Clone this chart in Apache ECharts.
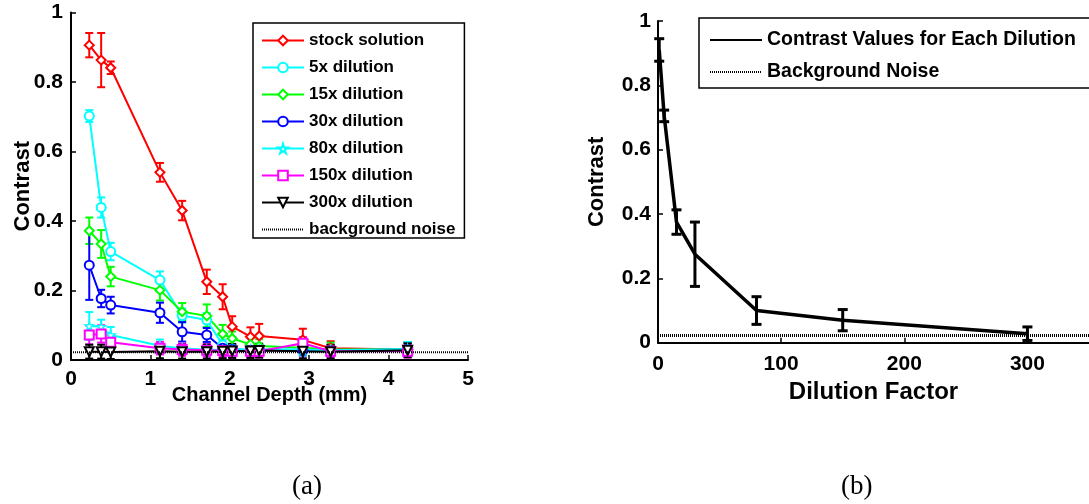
<!DOCTYPE html>
<html>
<head>
<meta charset="utf-8">
<script src="https://cdn.jsdelivr.net/npm/echarts@6/dist/echarts.min.js"></script>
<style>
	html,body{margin:0;padding:0;background:#fff;}
	#chart{width:1089px;height:504px;}
</style>
</head>
<body>
<div id="chart"></div>
<script>
// (a) 通道深度 vs 对比度
var depth = [0.23, 0.38, 0.5, 1.12, 1.4, 1.71, 1.91, 2.03, 2.26, 2.37, 2.92, 3.27, 4.24];
var stock = [0.906, 0.863, 0.841, 0.54, 0.43, 0.225, 0.182, 0.096, 0.067, 0.069, 0.058, 0.034, 0.03];
var stockErr = [0.035, 0.078, 0.018, 0.027, 0.028, 0.035, 0.036, 0.03, 0.027, 0.035, 0.032, 0.02, 0.02];
var dil5 = [0.702, 0.439, 0.312, 0.23, 0.128, 0.115, 0.043, 0.032, 0.03, 0.03, 0.03, 0.026, 0.03];
var dil5Err = [0.017, 0.029, 0.025, 0.025, 0.02, 0.02, 0.015, 0.015, 0.015, 0.015, 0.015, 0.015, 0.02];
var dil15 = [0.372, 0.334, 0.24, 0.201, 0.139, 0.127, 0.075, 0.062, 0.045, 0.04, 0.035, 0.03, 0.03];
var dil15Err = [0.038, 0.04, 0.028, 0.03, 0.025, 0.033, 0.026, 0.02, 0.02, 0.02, 0.018, 0.02, 0.02];
var dil30 = [0.273, 0.177, 0.158, 0.136, 0.081, 0.072, 0.034, 0.03, 0.028, 0.028, 0.028, 0.027, 0.03];
var dil30Err = [0.1, 0.025, 0.024, 0.029, 0.028, 0.02, 0.015, 0.015, 0.015, 0.015, 0.015, 0.015, 0.02];
var dil80 = [0.098, 0.096, 0.072, 0.041, 0.033, 0.03, 0.028, 0.027, 0.03, 0.03, 0.03, 0.028, 0.032];
var dil80Err = [0.04, 0.02, 0.023, 0.018, 0.015, 0.015, 0.015, 0.015, 0.015, 0.015, 0.015, 0.015, 0.02];
var dil150 = [0.072, 0.075, 0.051, 0.034, 0.03, 0.028, 0.027, 0.025, 0.025, 0.025, 0.048, 0.025, 0.025];
var dil150Err = [0.027, 0.025, 0.02, 0.018, 0.018, 0.018, 0.018, 0.018, 0.018, 0.018, 0.018, 0.018, 0.018];
var dil300 = [0.024, 0.024, 0.023, 0.025, 0.024, 0.024, 0.025, 0.026, 0.026, 0.027, 0.025, 0.024, 0.028];
var dil300Err = [0.02, 0.02, 0.02, 0.02, 0.02, 0.02, 0.02, 0.02, 0.02, 0.02, 0.02, 0.02, 0.02];
var noiseLeft = 0.022;
var depthRange = [0, 5];

// (b) 稀释倍数 vs 对比度
var dilution = [1, 5, 15, 30, 80, 150, 300];
var contrast = [0.91, 0.705, 0.375, 0.275, 0.1, 0.07, 0.028];
var contrastErr = [0.035, 0.018, 0.038, 0.1, 0.043, 0.033, 0.021];
var noiseRight = 0.022;
var dilutionRange = [0, 350];

var FONT = "'Liberation Sans', Arial, sans-serif";

// 左图各曲线: 名称, 数值, 误差, 颜色, 标记
var leftSeries = [
	{name:'stock solution', y:stock, err:stockErr, color:'#ff0000', symbol:'emptyDiamond'},
	{name:'5x dilution', y:dil5, err:dil5Err, color:'#00ffff', symbol:'emptyCircle'},
	{name:'15x dilution', y:dil15, err:dil15Err, color:'#00ff00', symbol:'emptyDiamond'},
	{name:'30x dilution', y:dil30, err:dil30Err, color:'#0000ff', symbol:'emptyCircle'},
	{name:'80x dilution', y:dil80, err:dil80Err, color:'#00ffff', symbol:'path://M50,0 L61,35 L98,35 L68,57 L79,91 L50,70 L21,91 L32,57 L2,35 L39,35 Z', star:true},
	{name:'150x dilution', y:dil150, err:dil150Err, color:'#ff00ff', symbol:'emptyRect'},
	{name:'300x dilution', y:dil300, err:dil300Err, color:'#000000', symbol:'emptyTriangle', rotate:180}
];

// 误差棒 (custom series)
function errorBar(color, width, cap){
	return function(params, api){
		var x = api.value(0);
		var lo = api.coord([x, api.value(1)]);
		var hi = api.coord([x, api.value(2)]);
		var st = {stroke:color, lineWidth:width};
		return {type:'group', children:[
			{type:'line', shape:{x1:lo[0], y1:lo[1], x2:hi[0], y2:hi[1]}, style:st},
			{type:'line', shape:{x1:lo[0]-cap, y1:lo[1], x2:lo[0]+cap, y2:lo[1]}, style:st},
			{type:'line', shape:{x1:hi[0]-cap, y1:hi[1], x2:hi[0]+cap, y2:hi[1]}, style:st}
		]};
	};
}

function errData(xs, ys, es){
	var out = [];
	for(var i=0;i<xs.length;i++){
		out.push([xs[i], ys[i]-es[i], ys[i]+es[i]]);
	}
	return out;
}

function pairs(xs, ys){
	var out = [];
	for(var i=0;i<xs.length;i++){
		out.push([xs[i], ys[i]]);
	}
	return out;
}

var series = [];
leftSeries.forEach(function(s){
	series.push({
		type:'custom', xAxisIndex:0, yAxisIndex:0, silent:true,
		renderItem:errorBar(s.color, 2, 4),
		encode:{x:0, y:[1,2]},
		data:errData(depth, s.y, s.err),
		z:2
	});
	var item = s.star ? {color:'#fff', borderColor:s.color, borderWidth:1.3} : {color:s.color, borderWidth:1.3};
	series.push({
		name:s.name, type:'line', xAxisIndex:0, yAxisIndex:0,
		data:pairs(depth, s.y),
		color:s.color,
		symbol:s.symbol, symbolSize:9, symbolRotate:s.rotate || 0,
		itemStyle:item,
		lineStyle:{color:s.color, width:2},
		animation:false, z:3
	});
});
series.push({
	name:'background noise', type:'line', xAxisIndex:0, yAxisIndex:0,
	data:pairs(depthRange, [noiseLeft, noiseLeft]),
	symbol:'none', color:'#000',
	lineStyle:{color:'#000', width:2, type:[1,1]},
	animation:false, z:4
});

// 右图
series.push({
	type:'custom', xAxisIndex:1, yAxisIndex:1, silent:true,
	renderItem:errorBar('#000', 3, 5),
	encode:{x:0, y:[1,2]},
	data:errData(dilution, contrast, contrastErr),
	z:2
});
series.push({
	name:'Contrast Values for Each Dilution', type:'line', xAxisIndex:1, yAxisIndex:1,
	data:pairs(dilution, contrast),
	symbol:'none', color:'#000',
	lineStyle:{color:'#000', width:3.5},
	animation:false, z:3
});
series.push({
	name:'Background Noise', type:'line', xAxisIndex:1, yAxisIndex:1,
	data:pairs(dilutionRange, [noiseRight, noiseRight]),
	symbol:'none', color:'#000',
	lineStyle:{color:'#000', width:3, type:[1,1]},
	animation:false, z:4
});

function axisBase(){
	return {
		axisLine:{show:true, onZero:false, lineStyle:{color:'#000', width:2}},
		axisTick:{show:true, inside:true, length:5, lineStyle:{color:'#000', width:1.5}},
		splitLine:{show:false},
		axisLabel:{color:'#000', fontFamily:FONT, fontWeight:'bold', fontSize:21},
		nameTextStyle:{color:'#000', fontFamily:FONT, fontWeight:'bold'},
		nameMoveOverlap:false
	};
}

var xLeft = axisBase();
Object.assign(xLeft, {type:'value', gridIndex:0, min:0, max:5, interval:1,
	name:'Channel Depth (mm)', nameLocation:'middle', nameGap:25});
xLeft.axisLabel.margin = 9;
xLeft.nameTextStyle.fontSize = 20;

var yLeft = axisBase();
Object.assign(yLeft, {type:'value', gridIndex:0, min:0, max:1, interval:0.2,
	name:'Contrast', nameLocation:'middle', nameGap:37});
yLeft.axisLabel.margin = 8;
yLeft.nameTextStyle.fontSize = 22;

var xRight = axisBase();
Object.assign(xRight, {type:'value', gridIndex:1, min:0, max:350, interval:100,
	name:'Dilution Factor', nameLocation:'middle', nameGap:38});
xRight.axisLabel.margin = 11;
xRight.axisLabel.showMaxLabel = false;
xRight.nameTextStyle.fontSize = 24;

var yRight = axisBase();
Object.assign(yRight, {type:'value', gridIndex:1, min:0, max:1, interval:0.2,
	name:'Contrast', nameLocation:'middle', nameGap:50});
yRight.axisLabel.margin = 7;
yRight.nameTextStyle.fontSize = 22;

var legendText = {color:'#000', fontFamily:FONT, fontWeight:'bold'};
var noSymbol = {opacity:0};

var option = {
	backgroundColor:'#fff',
	animation:false,
	grid:[
		{left:71, top:12.5, width:397, height:347.5},
		{left:658, top:21, width:433, height:321.7}
	],
	xAxis:[xLeft, xRight],
	yAxis:[yLeft, yRight],
	legend:[
		{
			orient:'vertical', left:253, top:23,
			data:leftSeries.map(function(s){return s.name;}).concat([{name:'background noise', itemStyle:noSymbol}]),
			itemWidth:42, itemHeight:12, itemGap:10,
			padding:[9, 9, 0, 8],
			borderColor:'#000', borderWidth:1.5, backgroundColor:'#fff',
			textStyle:Object.assign({fontSize:17}, legendText)
		},
		{
			orient:'vertical', left:699, top:18,
			data:[{name:'Contrast Values for Each Dilution', itemStyle:noSymbol}, {name:'Background Noise', itemStyle:noSymbol}],
			itemWidth:52, itemHeight:12, itemGap:12,
			padding:[12, 20, 6, 10],
			borderColor:'#000', borderWidth:1.5, backgroundColor:'#fff',
			textStyle:Object.assign({fontSize:19.5}, legendText)
		}
	],
	graphic:[
		{type:'text', left:292, top:473, style:{text:'(a)', fontFamily:"'Liberation Serif', 'Times New Roman', serif", fontSize:27, fill:'#000'}},
		{type:'text', left:841, top:473, style:{text:'(b)', fontFamily:"'Liberation Serif', 'Times New Roman', serif", fontSize:27, fill:'#000'}}
	],
	series:series
};

var chart = echarts.init(document.getElementById('chart'), null, {renderer:'canvas'});
chart.setOption(option);
</script>
</body>
</html>
